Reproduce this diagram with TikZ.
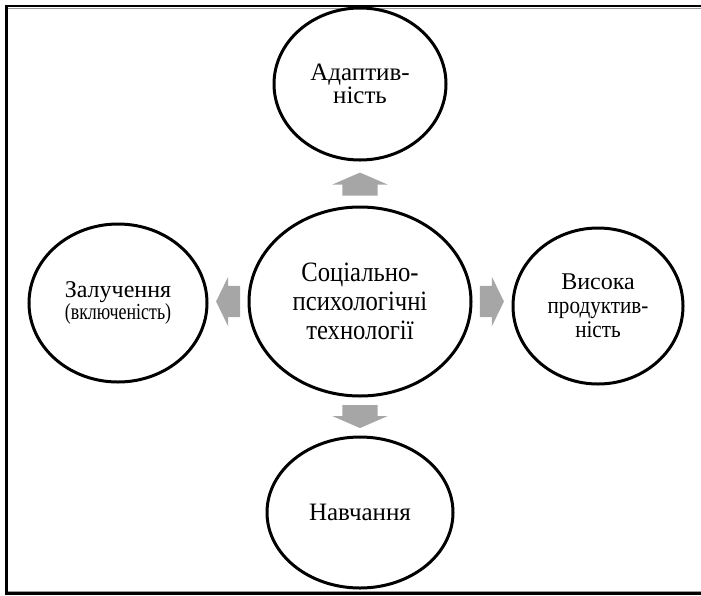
\documentclass[tikz,border=0pt]{standalone}
\usepackage{fontspec}
\setmainfont{Liberation Serif}
\newfontfamily\vuzkyj[FakeStretch=0.88]{Liberation Serif}
\newfontfamily\duzhevuzkyj[FakeStretch=0.78]{Liberation Serif}
\usetikzlibrary{shapes.geometric,shapes.arrows}
\definecolor{strilka}{RGB}{166,166,166}
\tikzset{
  kolo/.style = {ellipse, draw, line width = 3pt, inner sep = 0pt, align = center},
  vstrilka/.style = {single arrow, fill = strilka, inner xsep = 0pt,
    inner ysep = 17.5pt, sloped, allow upside down, pos = 0.4,
    minimum height = 23pt, minimum width = 55pt,
    single arrow head extend = 10pt, single arrow head indent = 0pt,
    single arrow tip angle = 133},
  hstrilka/.style = {vstrilka, inner ysep = 15.5pt, minimum height = 24pt,
    minimum width = 49pt, single arrow head extend = 9pt,
    single arrow tip angle = 128},
  ramka/.style = {line width = 2.6pt, line cap = butt}
}

\begin{document}
\begin{tikzpicture}[x = 1pt, y = -1pt]
\useasboundingbox (0,0) rectangle (701,595);

% рамка
\draw[ramka] (701,5.8) -- (6.2,5.8) -- (6.2,593.3) -- (701,593.3);
\draw[black!40, line width = 1pt] (7.5,8.2) -- (701,8.2);
\draw[black!40, line width = 1pt] (7.5,591) -- (701,591);

% центральне коло
\node [kolo, minimum width = 222, minimum height = 189,
       font = \vuzkyj\fontsize{28}{29}\selectfont] at (360,301.5) (soc)
  {Соціально-\\психологічні\\технології};

% кола навколо
\node [kolo, minimum width = 172, minimum height = 152,
       font = \fontsize{25}{23}\selectfont] at (360,84) (adapt)
  {Адаптив-\\ність};
\node [kolo, minimum width = 178, minimum height = 158,
       font = \fontsize{24}{21}\selectfont] at (118,303) (incl)
  {Залучення\\{\duzhevuzkyj\fontsize{23}{21}\selectfont(включеність)}};
\node [kolo, minimum width = 170, minimum height = 156,
       font = \fontsize{24}{24}\selectfont] at (598,306) (high)
  {Висока\\{\vuzkyj продуктив-}\\{\vuzkyj ність}};
\node [kolo, minimum width = 186, minimum height = 151,
       font = \fontsize{25}{24}\selectfont] at (360,512.5) (learn)
  {Навчання};

% стрілки
\path (soc.north) -- (adapt.south) node [vstrilka] (s1) {};
\path (soc.south) -- (learn.north) node [vstrilka] (s2) {};
\path (soc.west) -- (soc.west -| incl.east) node [hstrilka] (s3) {};
\path (soc.east) -- (soc.east -| high.west) node [hstrilka] (s4) {};
\end{tikzpicture}
\end{document}
